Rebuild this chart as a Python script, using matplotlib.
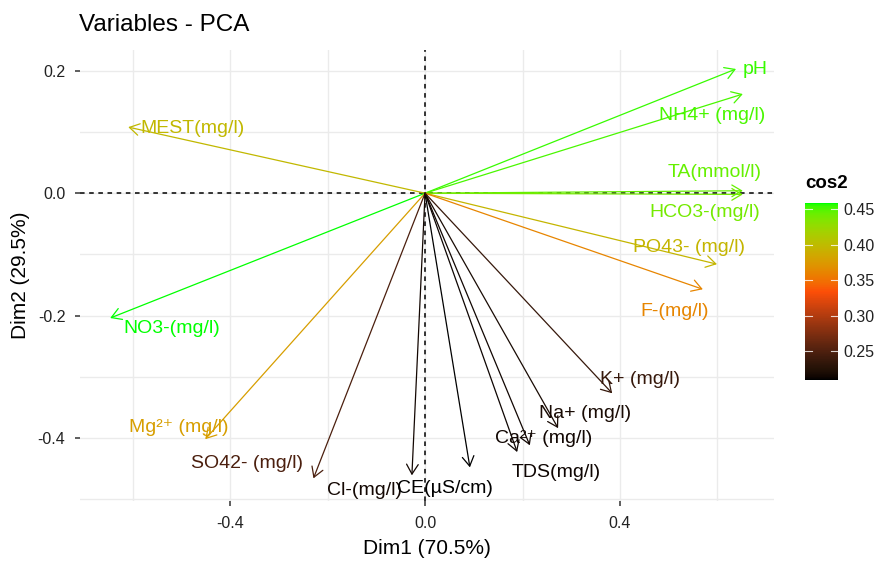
import numpy as np
import matplotlib
matplotlib.use("Agg")
import matplotlib.pyplot as plt
from matplotlib.cm import ScalarMappable
from matplotlib.colors import ListedColormap, Normalize, to_rgb

# PCA variable coordinates (Dim1, Dim2) and their cos2
variables = ["pH", "NH4+ (mg/l)", "TA(mmol/l)", "HCO3-(mg/l)", "PO43- (mg/l)",
             "F-(mg/l)", "MEST(mg/l)", "NO3-(mg/l)", "Mg²⁺ (mg/l)", "SO42- (mg/l)",
             "Cl-(mg/l)", "CE(µS/cm)", "TDS(mg/l)", "Ca²⁺ (mg/l)", "Na+ (mg/l)",
             "K+ (mg/l)"]
dim1 = [0.638, 0.652, 0.652, 0.652, 0.599, 0.570, -0.609, -0.646, -0.451, -0.229,
        -0.027, 0.092, 0.189, 0.215, 0.273, 0.384]
dim2 = [0.203, 0.162, 0.004, -0.002, -0.116, -0.157, 0.108, -0.204, -0.402, -0.466,
        -0.461, -0.448, -0.423, -0.412, -0.384, -0.327]
cos2 = [0.455, 0.452, 0.445, 0.440, 0.395, 0.362, 0.398, 0.459, 0.378, 0.248,
        0.215, 0.209, 0.213, 0.214, 0.218, 0.236]

dim1_label = "Dim1 (70.5%)"
dim2_label = "Dim2 (29.5%)"
cbar_ticks = [0.25, 0.30, 0.35, 0.40, 0.45]

# label offsets from arrow tips, in pixels (x right, y up)
label_offsets = [(19, -1), (-31, -21), (-28, 18), (-38, -18), (-28, 17), (-28, -22),
                 (64, -1), (62, -10), (-27, 12), (-66, 15), (-47, -15), (-25, -21),
                 (39, -20), (14, 7), (27, 15), (28, 14)]

FONT = ["Liberation Sans", "DejaVu Sans"]
plt.rcParams["font.family"] = FONT


# gradient black -> orangered -> green, interpolated in CIELAB like ggplot
def to_lab(c):
    rgb = np.array(to_rgb(c))
    lin = np.where(rgb <= 0.04045, rgb / 12.92, ((rgb + 0.055) / 1.055) ** 2.4)
    m = np.array([[0.4124, 0.3576, 0.1805], [0.2126, 0.7152, 0.0722], [0.0193, 0.1192, 0.9505]])
    xyz = m @ lin / np.array([0.95047, 1.0, 1.08883])
    f = np.where(xyz > 0.008856, np.cbrt(xyz), 7.787 * xyz + 16 / 116)
    return np.array([116 * f[1] - 16, 500 * (f[0] - f[1]), 200 * (f[1] - f[2])])


def from_lab(lab):
    fy = (lab[0] + 16) / 116
    f = np.array([fy + lab[1] / 500, fy, fy - lab[2] / 200])
    xyz = np.where(f ** 3 > 0.008856, f ** 3, (f - 16 / 116) / 7.787) * np.array([0.95047, 1.0, 1.08883])
    mi = np.array([[3.2406, -1.5372, -0.4986], [-0.9689, 1.8758, 0.0415], [0.0557, -0.2040, 1.0570]])
    lin = mi @ xyz
    rgb = np.where(lin <= 0.0031308, 12.92 * lin, 1.055 * np.clip(lin, 0, None) ** (1 / 2.4) - 0.055)
    return np.clip(rgb, 0, 1)


stops = [to_lab(c) for c in ["black", "#FC4E07", "#00FF00"]]
samples = []
for t in np.linspace(0, 1, 256):
    seg = min(int(t * 2), 1)
    u = t * 2 - seg
    samples.append(from_lab(stops[seg] * (1 - u) + stops[seg + 1] * u))
cmap = ListedColormap(samples)
norm = Normalize(vmin=0.209, vmax=0.459)

W, H = 882, 564
fig = plt.figure(figsize=(W / 100, H / 100), dpi=100)
ax = fig.add_axes([80 / W, 1 - 501 / H, 694 / W, 451 / H])
ax.set_xlim(-0.708, 0.716)
ax.set_ylim(-0.503, 0.234)

ax.set_xticks([-0.4, 0.0, 0.4])
ax.set_xticks([-0.6, -0.2, 0.2, 0.6], minor=True)
ax.set_yticks([-0.4, -0.2, 0.0, 0.2])
ax.set_yticks([-0.5, -0.3, -0.1, 0.1], minor=True)
ax.set_xticklabels([f"{v:.1f}" for v in ax.get_xticks()])
ax.set_yticklabels([f"{v:.1f}" for v in ax.get_yticks()])
ax.grid(which="both", color="#EBEBEB", lw=1.0)
ax.set_axisbelow(True)
for s in ax.spines.values():
    s.set_visible(False)
ax.tick_params(which="major", length=3.6, width=1.1, color="#333333",
               labelsize=11.5, labelcolor="#222222", pad=7)
ax.tick_params(which="minor", length=0)

ax.axhline(0, color="black", ls=(0, (3, 3)), lw=1.1, zorder=1)
ax.axvline(0, color="black", ls=(0, (3, 3)), lw=1.1, zorder=1)

for name, x, y, c2, (dx, dy) in zip(variables, dim1, dim2, cos2, label_offsets):
    col = cmap(norm(c2))
    ax.annotate("", xy=(x, y), xytext=(0, 0),
                arrowprops=dict(arrowstyle="->,head_length=0.5,head_width=0.3",
                                color=col, lw=0.9, shrinkA=0, shrinkB=0,
                                mutation_scale=14), zorder=3)
    ax.annotate(name, xy=(x, y), xytext=(dx * 0.72, dy * 0.72),
                textcoords="offset points", ha="center", va="center",
                color=col, fontsize=14, zorder=4)

fig.text(79 / W, 1 - 25 / H, "Variables - PCA", fontsize=17.5, ha="left", va="center")
fig.text(427 / W, 1 - 549 / H, dim1_label, fontsize=15, ha="center", va="center")
fig.text(21 / W, 1 - 275 / H, dim2_label, fontsize=15, ha="center", va="center", rotation=90)

# colour bar legend
cax = fig.add_axes([805 / W, 1 - 380 / H, 33 / W, 177 / H])
cb = fig.colorbar(ScalarMappable(norm=norm, cmap=cmap), cax=cax)
cb.outline.set_visible(False)
cb.set_ticks(cbar_ticks)
cb.set_ticklabels([f"{t:.2f}" for t in cbar_ticks])
cax.tick_params(length=0, labelsize=11.5, labelcolor="#222222", pad=4)
tr = cax.get_yaxis_transform()
for t in cbar_ticks:
    cax.plot([0, 0.2], [t, t], color="white", lw=0.8, alpha=0.8, transform=tr)
    cax.plot([0.8, 1], [t, t], color="white", lw=0.8, alpha=0.8, transform=tr)
fig.text(805 / W, 1 - 183 / H, "cos2", fontsize=13.5, fontweight="bold", ha="left", va="center")

fig.savefig("out.png", dpi=100)
